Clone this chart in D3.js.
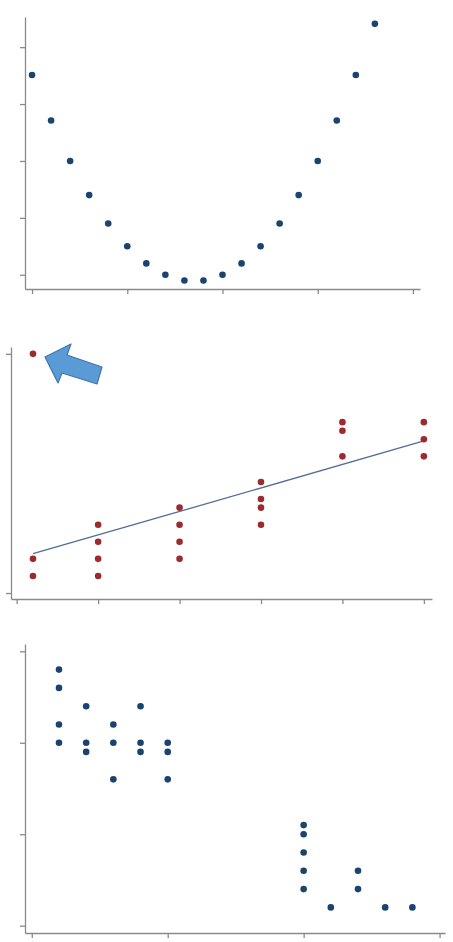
<!DOCTYPE html>
<html>
<head>
<meta charset="utf-8">
<script src="https://cdn.jsdelivr.net/npm/d3@7"></script>
<style>
  body { margin: 0; background: #fff; }
  .axis path, .axis line { stroke: #8a8a8a; stroke-width: 1.3; }
  .axis text { display: none; }
</style>
</head>
<body>
<svg id="chart" width="453" height="942"></svg>
<script>
// Panel 1 - curved (U-shaped) relationship
var curveX = [0,1,2,3,4,5,6,7,8,9,10,11,12,13,14,15,16,17,18];
var curveY = [3.51,2.71,2.0,1.4,0.9,0.5,0.2,0,-0.1,-0.1,0,0.2,0.5,0.9,1.4,2.0,2.71,3.51,4.41];
var curveXTicks = [0,5,10,15,20];
var curveYTicks = [0,1,2,3,4];

// Panel 2 - linear trend with an outlier
var trendX = [0.2,0.2,0.2, 1,1,1,1, 2,2,2,2, 3,3,3,3, 4,4,4, 5,5,5];
var trendY = [14,2,1, 4,3,2,1, 5,4,3,2, 6.5,5.5,5,4, 10,9.5,8, 10,9,8];
var trendLineX = [0.2, 5];
var trendLineY = [2.3, 8.9];
var trendXTicks = [0,1,2,3,4,5];
var trendYTicks = [0,14];

// Panel 3 - two clusters
var clusterX = [0.2,0.2,0.2,0.2, 0.4,0.4,0.4, 0.6,0.6,0.6, 0.8,0.8,0.8, 1,1,1,
                2,2,2,2,2, 2.2, 2.4,2.4, 2.6, 2.8];
var clusterY = [2.8,2.6,2.2,2.0, 2.4,2.0,1.9, 2.2,2.0,1.6, 2.4,2.0,1.9, 2.0,1.9,1.6,
                1.1,1.0,0.8,0.6,0.4, 0.2, 0.6,0.4, 0.2, 0.2];
var clusterXTicks = [0,1,2,3];
var clusterYTicks = [0,1,2,3];

var svg = d3.select('#chart');
var BLUE = '#1b4372', RED = '#9a2b2f';

function panel(o) {
    var x = d3.scaleLinear().domain(o.xd).range([o.left, o.right]);
    var y = d3.scaleLinear().domain(o.yd).range([o.bottom, o.top]);
    var g = svg.append('g');

    g.append('g').attr('class', 'axis')
        .attr('transform', 'translate(0,' + o.bottom + ')')
        .call(d3.axisBottom(x).tickValues(o.xt).tickSize(5).tickSizeOuter(0));
    g.append('g').attr('class', 'axis')
        .attr('transform', 'translate(' + o.left + ',0)')
        .call(d3.axisLeft(y).tickValues(o.yt).tickSize(5).tickSizeOuter(0));

    if (o.lx) {
        g.append('line')
            .attr('x1', x(o.lx[0])).attr('y1', y(o.ly[0]))
            .attr('x2', x(o.lx[1])).attr('y2', y(o.ly[1]))
            .attr('stroke', '#4f6f98').attr('stroke-width', 1.3);
    }

    g.selectAll('circle.pt')
        .data(o.xs.map(function(v, i) { return [v, o.ys[i]]; }))
        .enter().append('circle')
        .attr('class', 'pt')
        .attr('cx', function(d) { return x(d[0]); })
        .attr('cy', function(d) { return y(d[1]); })
        .attr('r', 3.3)
        .attr('fill', o.color);
    return g;
}

panel({xd: [-0.37, 20.37], yd: [-0.25, 4.53], left: 25, right: 420, top: 17, bottom: 289,
       xt: curveXTicks, yt: curveYTicks, xs: curveX, ys: curveY, color: BLUE});

panel({xd: [-0.07, 5.1], yd: [-0.35, 14.4], left: 11, right: 432, top: 347, bottom: 599,
       xt: trendXTicks, yt: trendYTicks, xs: trendX, ys: trendY, color: RED,
       lx: trendLineX, ly: trendLineY});

panel({xd: [-0.05, 3.04], yd: [-0.08, 3.08], left: 25, right: 445, top: 644, bottom: 933,
       xt: clusterXTicks, yt: clusterYTicks, xs: clusterX, ys: clusterY, color: BLUE});

// annotation arrow pointing at the outlier
svg.append('path')
    .attr('d', 'M45,357 L71,344 L67,355 L102,367 L97,384 L62,373 L58,383 Z')
    .attr('fill', '#5b9bd5')
    .attr('stroke', '#3f77ad')
    .attr('stroke-width', 1.2)
    .attr('stroke-linejoin', 'round');
</script>
</body>
</html>
